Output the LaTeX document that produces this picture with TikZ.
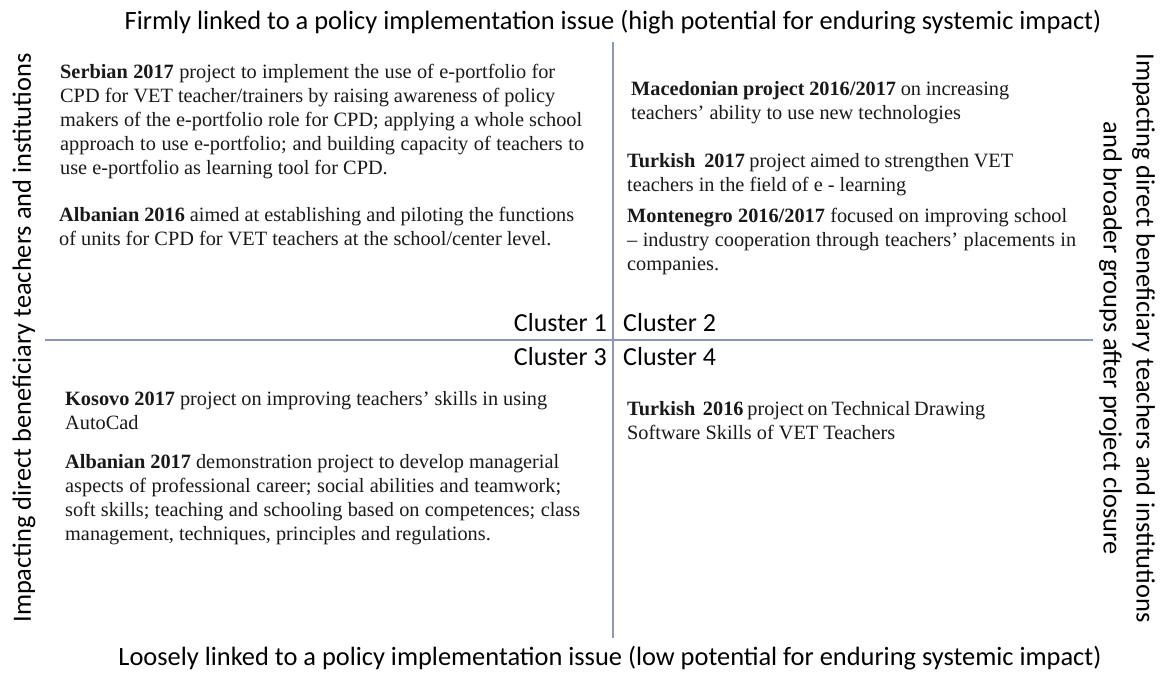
\documentclass[tikz,border=0pt]{standalone}
\usepackage{fontspec}
\newfontfamily\bodyf{Liberation Serif}
\newfontfamily\calf{Carlito}
\definecolor{axisline}{RGB}{140,152,178}
\definecolor{bodytext}{RGB}{25,25,25}
\newcommand\JL[2]{\hbox to #1pt{#2}}
\newcommand\NL[1]{\hbox{#1}}
\newcommand\para[1]{\vtop{\baselineskip=24pt\lineskiplimit=-50pt #1}}
\tikzset{
  body/.style={inner sep=0pt, anchor=base west, text=bodytext, font=\bodyf\fontsize{20.3}{24}\selectfont},
  axislabel/.style={inner sep=0pt, font=\calf\fontsize{26.4}{33}\selectfont},
  clusterlabel/.style={inner sep=0pt, font=\calf\fontsize{26}{30}\selectfont},
  axis/.style={draw=axisline, line width=1.5pt}
}
\begin{document}
\begin{tikzpicture}[x=1pt,y=-1pt]
\fill[white] (0,0) rectangle (1162,673);
\useasboundingbox (0,0) rectangle (1162,673);

% axes
\coordinate (vtop) at (613,42);
\coordinate (vbot) at (613,638);
\coordinate (hleft) at (45,340);
\coordinate (hright) at (1093,340);
\draw[axis] (vtop) -- (vbot);
\draw[axis] (hleft) -- (hright);

% axis titles
\node[axislabel, anchor=base] (toptitle) at (613,29) {Firmly linked to a policy implementation issue (high potential for enduring systemic impact)};
\node[axislabel, anchor=base] (bottitle) at (610,665) {Loosely linked to a policy implementation issue (low potential for enduring systemic impact)};
\node[axislabel, rotate=90] (lefttitle) at (24,338) {Impacting direct beneficiary teachers and institutions};
\node[axislabel, rotate=-90, align=center] (righttitle) at (1127,338) {Impacting direct beneficiary teachers and institutions\\and broader groups after project closure};

% cluster labels
\node[clusterlabel, anchor=base east] (c1) at (607,331) {Cluster 1};
\node[clusterlabel, anchor=base west] (c2) at (623,331) {Cluster 2};
\node[clusterlabel, anchor=base east] (c3) at (607,365) {Cluster 3};
\node[clusterlabel, anchor=base west] (c4) at (623,365) {Cluster 4};

% cluster 1
\node[body] (serb) at (60,78) {\para{%
\JL{495}{\textbf{Serbian 2017} project to implement the use of e-portfolio for}
\JL{495}{CPD for VET teacher/trainers by raising awareness of policy}
\JL{522}{makers of the e-portfolio role for CPD; applying a whole school}
\JL{524}{approach to use e-portfolio; and building capacity of teachers to}
\NL{use e-portfolio as learning tool for CPD.}}};
\node[body] (alb16) at (59,221) {\para{%
\JL{515}{\textbf{Albanian 2016} aimed at establishing and piloting the functions}
\NL{of units for CPD for VET teachers at the school/center level.}}};

% cluster 2
\node[body] (mac) at (631,95) {\para{%
\JL{378}{\textbf{Macedonian project 2016/2017} on increasing}
\NL{teachers’ ability to use new technologies}}};
\node[body] (tur17) at (627,167) {\para{%
\JL{386}{\textbf{Turkish\ \ 2017} project aimed to strengthen VET}
\NL{teachers in the field of e - learning}}};
\node[body] (mon) at (627,222) {\para{%
\JL{440}{\textbf{Montenegro 2016/2017} focused on improving school}
\JL{449}{– industry cooperation through teachers’ placements in}
\NL{companies.}}};

% cluster 3
\node[body] (kos) at (65,405) {\para{%
\JL{482}{\textbf{Kosovo 2017} project on improving teachers’ skills in using}
\NL{AutoCad}}};
\node[body] (alb17) at (65,468) {\para{%
\JL{494}{\textbf{Albanian 2017} demonstration project to develop managerial}
\JL{496}{aspects of professional career; social abilities and teamwork;}
\JL{515}{soft skills; teaching and schooling based on competences; class}
\NL{management, techniques, principles and regulations.}}};

% cluster 4
\node[body] (tur16) at (627,415) {\para{%
\JL{358}{\textbf{Turkish\ \ 2016} project on Technical Drawing}
\NL{Software Skills of VET Teachers}}};
\end{tikzpicture}
\end{document}
